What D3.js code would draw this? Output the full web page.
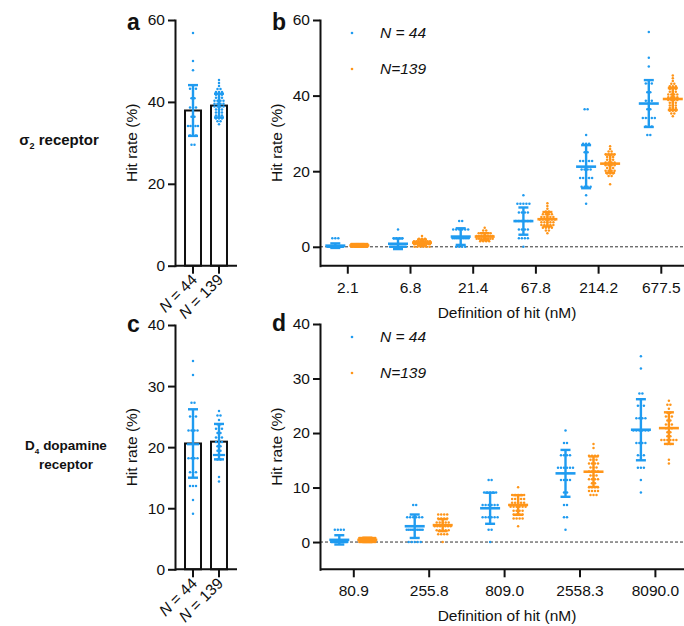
<!DOCTYPE html>
<html>
<head>
<meta charset="utf-8">
<script src="https://cdn.jsdelivr.net/npm/d3@7"></script>
<style>
  body { margin: 0; background: #fff; }
  text { font-family: Arial, "Liberation Sans", sans-serif; }
</style>
</head>
<body>
<svg id="chart" width="684" height="626"></svg>
<script>
const blue = '#1f9bf0', orange = '#ff9519';

const groups = ['N = 44', 'N = 139'];
const legendNames = ['N = 44', 'N=139'];
const totals = [44, 139];

// sigma2 receptor, definition of hit (nM)
const catsS = ['2.1', '6.8', '21.4', '67.8', '214.2', '677.5'];
// D4 dopamine receptor
const catsD = ['80.9', '255.8', '809.0', '2558.3', '8090.0'];

// replicate hits as [hits, number of replicates]
const s44 = [
    [[1, 3], [0, 17]],
    [[2, 1], [1, 4], [0, 15]],
    [[3, 2], [2, 6], [1, 10], [0, 4]],
    [[6, 1], [5, 5], [4, 4], [3, 6], [2, 4], [1, 4], [0, 1]],
    [[16, 2], [13, 1], [12, 3], [11, 2], [10, 5], [9, 4], [8, 5], [7, 4], [6, 1], [5, 1]],
    [[25, 1], [22, 1], [21, 1], [19, 3], [18, 2], [17, 3], [16, 2], [15, 5], [14, 3], [13, 2]]
];
const s139 = [
    [[1, 14], [0, 14]],
    [[4, 1], [3, 3], [2, 8], [1, 10], [0, 6]],
    [[7, 1], [6, 2], [5, 5], [4, 8], [3, 8], [2, 4]],
    [[16, 1], [15, 1], [14, 1], [13, 2], [12, 4], [11, 5], [10, 6], [9, 5], [8, 5], [7, 4], [6, 2], [5, 1]],
    [[37, 1], [36, 1], [35, 2], [34, 4], [33, 3], [32, 3], [31, 4], [30, 4], [29, 3], [28, 4], [27, 3], [26, 2], [23, 1]],
    [[63, 1], [62, 1], [61, 1], [60, 2], [59, 3], [58, 3], [57, 3], [56, 4], [55, 4], [54, 4], [53, 3], [52, 3], [51, 3], [50, 3], [49, 2], [48, 1]]
];
const d44 = [
    [[1, 4], [0, 20]],
    [[3, 2], [2, 6], [1, 10], [0, 5]],
    [[5, 2], [4, 5], [3, 6], [2, 6], [1, 2], [0, 1]],
    [[9, 1], [8, 2], [7, 4], [6, 6], [5, 4], [4, 2], [3, 2], [2, 2], [1, 1]],
    [[15, 1], [14, 1], [12, 2], [11, 3], [10, 4], [9, 6], [8, 4], [7, 3], [6, 3], [5, 1], [4, 1]]
];
const d139 = [
    [[1, 14], [0, 14]],
    [[7, 4], [6, 4], [5, 5], [4, 7], [3, 5], [2, 4], [0, 1]],
    [[14, 1], [12, 5], [11, 5], [10, 5], [9, 6], [8, 4], [7, 4], [6, 4], [4, 1]],
    [[25, 1], [24, 1], [22, 4], [21, 3], [20, 4], [19, 3], [18, 4], [17, 3], [16, 4], [15, 2], [14, 4], [13, 4], [12, 3]],
    [[36, 1], [35, 2], [34, 1], [33, 2], [32, 3], [31, 2], [30, 3], [29, 3], [28, 2], [27, 2], [26, 6], [25, 2], [21, 1], [20, 1]]
];

// mean and SD of hit rate (%)
const meanS44 = [0.3, 0.8, 2.7, 6.8, 21.2, 37.9];
const sdS44 = [0.6, 1.4, 2.2, 3.6, 5.7, 6.2];
const meanS139 = [0.35, 1.1, 2.7, 7.3, 22.0, 39.1];
const sdS139 = [0.35, 0.8, 0.9, 1.9, 2.4, 2.9];
const meanD44 = [0.4, 2.9, 6.2, 12.6, 20.6];
const sdD44 = [0.85, 2.15, 2.85, 4.3, 5.6];
const meanD139 = [0.4, 3.1, 6.8, 12.9, 20.9];
const sdD139 = [0.4, 1.1, 1.8, 2.8, 2.9];

const svg = d3.select('#chart');

let drawDots = (g, levels, total, cx, y, color, maxW = 16) => {
    let pts = [];
    levels.forEach(([hits, n]) => {
        let w = Math.min((n - 1) * 3, maxW);
        d3.range(n).forEach(i => {
            pts.push({x: cx + (n > 1 ? -w / 2 + i * w / (n - 1) : 0), v: hits / total * 100});
        });
    });
    g.selectAll(null).data(pts).join('circle')
        .attr('cx', d => d.x)
        .attr('cy', d => y(d.v))
        .attr('r', 1.25)
        .attr('fill', color);
};

let errorBar = (g, cx, mean, sd, y, color, meanW) => {
    let e = g.append('g').attr('stroke', color).attr('stroke-width', 2.4);
    e.append('line').attr('x1', cx).attr('x2', cx).attr('y1', y(mean - sd)).attr('y2', y(mean + sd));
    [mean - sd, mean + sd].forEach(v => {
        e.append('line').attr('x1', cx - 5).attr('x2', cx + 5).attr('y1', y(v)).attr('y2', y(v));
    });
    if (meanW) {
        e.append('line').attr('x1', cx - meanW / 2).attr('x2', cx + meanW / 2)
            .attr('y1', y(mean)).attr('y2', y(mean)).attr('stroke-width', 2.6);
    }
};

let yAxis = (x0, y, ticks) => {
    let g = svg.append('g').attr('transform', `translate(${x0},0)`)
        .call(d3.axisLeft(y).tickValues(ticks).tickSize(7).tickSizeOuter(0).tickPadding(3));
    g.selectAll('path, line').attr('stroke', '#111').attr('stroke-width', 2);
    g.selectAll('text').attr('font-size', 15.5).attr('fill', '#111');
    g.select('.domain').attr('stroke-linecap', 'square');
    return g;
};

let yTitle = (x, yc) => {
    svg.append('text').attr('transform', `translate(${x},${yc}) rotate(-90)`)
        .attr('text-anchor', 'middle').attr('font-size', 15.5).attr('fill', '#111')
        .text('Hit rate (%)');
};

let letter = (x, y, t) => {
    svg.append('text').attr('x', x).attr('y', y).attr('font-size', 23)
        .attr('font-weight', 'bold').attr('fill', '#111').text(t);
};

// bar panel (a, c)
let barPanel = ({x0, x1, top, bottom, ymax, ticks, dots, means, sds, label, ly}) => {
    let y = d3.scaleLinear().domain([0, ymax]).range([bottom, top]);
    let x = d3.scaleBand().domain(groups).range([x0, x1]).padding(0.385);
    let g = svg.append('g');
    groups.forEach((gr, i) => {
        let cx = x(gr) + x.bandwidth() / 2;
        g.append('rect').attr('x', x(gr)).attr('width', x.bandwidth())
            .attr('y', y(means[i])).attr('height', y(0) - y(means[i]))
            .attr('fill', '#fff').attr('stroke', '#111').attr('stroke-width', 2);
        drawDots(g, dots[i], totals[i], cx, y, blue, 10);
        errorBar(g, cx, means[i], sds[i], y, blue, 0);
    });
    yAxis(x0, y, ticks);
    let xa = svg.append('g').attr('transform', `translate(0,${bottom})`)
        .call(d3.axisBottom(x).tickSize(8).tickSizeOuter(0));
    xa.select('.domain').attr('d', `M${x0},0H${x1}`).attr('stroke', '#111').attr('stroke-width', 2);
    xa.selectAll('line').attr('stroke', '#111').attr('stroke-width', 2);
    xa.selectAll('text').remove();
    groups.forEach(gr => {
        let cx = x(gr) + x.bandwidth() / 2;
        let t = svg.append('text').attr('transform', `translate(${cx + 5},${bottom + 15}) rotate(-45)`)
            .attr('text-anchor', 'end').attr('font-size', 15.5).attr('fill', '#111');
        t.append('tspan').attr('font-style', 'italic').text('N');
        t.append('tspan').text(gr.slice(1));
    });
    yTitle(137, (top + bottom) / 2);
    letter(127, ly, label);
};

// scatter panel (b, d)
let scatterPanel = ({x0, x1, top, bottom, ymin, ymax, ticks, cats, first, step, off, dots, means, sds, label, ly}) => {
    let y = d3.scaleLinear().domain([ymin, ymax]).range([bottom, top]);
    let x = d3.scalePoint().domain(cats).range([x0 + first, x0 + first + step * (cats.length - 1)]);
    let g = svg.append('g');
    g.append('line').attr('x1', x0).attr('x2', x1).attr('y1', y(0)).attr('y2', y(0))
        .attr('stroke', '#333').attr('stroke-width', 1).attr('stroke-dasharray', '3,2');
    let colors = [blue, orange];
    cats.forEach((c, j) => {
        [0, 1].forEach(i => {
            let cx = x(c) + (i ? off : -off);
            drawDots(g, dots[i][j], totals[i], cx, y, colors[i]);
        });
    });
    cats.forEach((c, j) => {
        [0, 1].forEach(i => {
            let cx = x(c) + (i ? off : -off);
            errorBar(g, cx, means[i][j], sds[i][j], y, colors[i], 20);
        });
    });
    yAxis(x0, y, ticks);
    let xa = svg.append('g').attr('transform', `translate(0,${bottom})`)
        .call(d3.axisBottom(x).tickSize(8).tickSizeOuter(0).tickPadding(8));
    xa.select('.domain').attr('d', `M${x0},0H${x1}`).attr('stroke', '#111').attr('stroke-width', 2);
    xa.selectAll('line').attr('stroke', '#111').attr('stroke-width', 2);
    xa.selectAll('text').attr('font-size', 15.5).attr('fill', '#111');
    svg.append('text').attr('x', (x0 + 684) / 2 + 5).attr('y', bottom + 52)
        .attr('text-anchor', 'middle').attr('font-size', 15.5).attr('fill', '#111')
        .text('Definition of hit (nM)');
    yTitle(282, (top + bottom) / 2);
    letter(272, ly, label);
    // legend
    legendNames.forEach((n, i) => {
        let ty = top + 18 + i * 36;
        svg.append('circle').attr('cx', 352).attr('cy', ty - 5).attr('r', 1.3).attr('fill', colors[i]);
        svg.append('text').attr('x', 380).attr('y', ty).attr('font-size', 15.5)
            .attr('font-style', 'italic').attr('fill', '#111').text(n);
    });
};

barPanel({x0: 175, x1: 237, top: 20, bottom: 265.7, ymax: 60, ticks: [0, 20, 40, 60],
    dots: [s44[5], s139[5]], means: [meanS44[5], meanS139[5]], sds: [sdS44[5], sdS139[5]],
    label: 'a', ly: 30});
barPanel({x0: 175, x1: 237, top: 325, bottom: 569.3, ymax: 40, ticks: [0, 10, 20, 30, 40],
    dots: [d44[4], d139[4]], means: [meanD44[4], meanD139[4]], sds: [sdD44[4], sdD139[4]],
    label: 'c', ly: 332});
scatterPanel({x0: 320, x1: 684, top: 20, bottom: 265.7, ymin: -5, ymax: 60, ticks: [0, 20, 40, 60],
    cats: catsS, first: 27.3, step: 62.7, off: 12,
    dots: [s44, s139], means: [meanS44, meanS139], sds: [sdS44, sdS139], label: 'b', ly: 30});
scatterPanel({x0: 320, x1: 684, top: 324, bottom: 569.3, ymin: -5, ymax: 40, ticks: [0, 10, 20, 30, 40],
    cats: catsD, first: 33.3, step: 75.4, off: 14,
    dots: [d44, d139], means: [meanD44, meanD139], sds: [sdD44, sdD139], label: 'd', ly: 331});

// row labels
let rowLabel = (x, y, size, lines) => {
    let t = svg.append('text').attr('text-anchor', 'middle').attr('font-size', size)
        .attr('font-weight', 'bold').attr('fill', '#111');
    lines.forEach((ln, k) => {
        let tl = t.append('tspan').attr('x', x).attr('y', y + k * 18.5);
        let shift = 0;
        ln.forEach(([s, sub]) => {
            let sp = tl.append('tspan').text(s);
            if (sub) {
                sp.attr('font-size', size * 0.6).attr('dy', 4);
                shift = 4;
            } else if (shift) {
                sp.attr('dy', -shift);
                shift = 0;
            }
        });
    });
};
rowLabel(59, 145, 15, [[['σ'], ['2', true], [' receptor']]]);
rowLabel(66, 450, 13.5, [[['D'], ['4', true], [' dopamine']], [['receptor']]]);
</script>
</body>
</html>
